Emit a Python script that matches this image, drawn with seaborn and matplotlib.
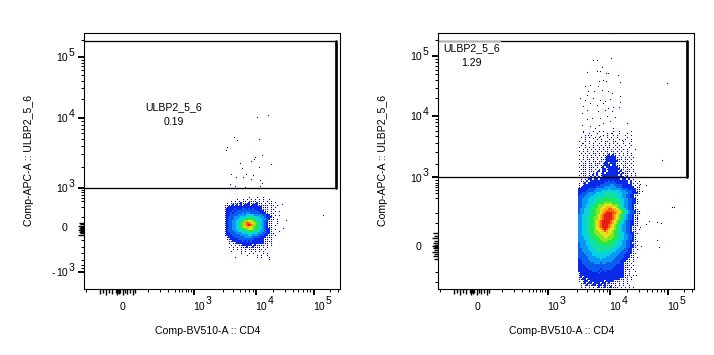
import matplotlib
matplotlib.use("Agg")
import matplotlib.pyplot as plt
import pandas as pd
import seaborn as sns

# both panels are in display channels (0-256), which is what FlowJo plots on
level_colors = {1: "#0a0a8c", 2: "#0a28e6", 3: "#0a5cf0", 4: "#0a98f5", 5: "#08d0e4", 6: "#10e0a4",
                7: "#20e650", 8: "#88e620", 9: "#e0e620", 10: "#ffb010", 11: "#f86010", 12: "#e81e14"}

# density per 2-channel cell, "." = no events, 1 sparse ... c densest
left_x0 = 140.5
left_y0 = 91.5
left_rows = [
    "............1...1..1........",
    "......1..1.1.1.1.1.1..1.....",
    "...1.1.1.11.1111.1.1.1.1....",
    ".1.1111121112111211.1.11....",
    "1111212121222122211111.11.1.",
    "1122222222222222222111.1.1..",
    "1222232223323232222111.11...",
    "1222323333333333322211.1.1.1",
    "1223233334344333332221.11...",
    "122333344445555444433221.1.1",
    "1233344455566665554432221...",
    "1233344556677776655443211.1.",
    "123344556788998765543211..1",
    "1233445678abba9876543211..1",
    "1233445678abcba876543211.1.",
    "12334456789aa98776543211...",
    "123344556778998776543221.1.",
    "123334455667777665443221...1",
    "1223334445556655544332211...",
    "122233334444554443332211.1..",
    ".12223333344443333222111....",
    ".112222333333332222211.1..",
    "..1122222323232222221111....",
    "..1.112222222222222211.1....",
    "...1.1.1122222121111.1.1....",
    "..1.1.1.1112112111.1.1......",
    "....1.1.1.1.1111.11.1.......",
    "...1....1.1..1.1.1.1........",
    "........1...1.1....1.1......",
    "...........1....1.1..1......",
    ".....1..........1.1...1.....",
    "......................1.....",
]

right_x0 = 138.5
right_y0 = 157.5
right_rows = [
    "...1....1..1.1....1..1.....1....",
    "......1...1....1.1...1...1......",
    "....1..1.....1.1..1.1...1..1....",
    "..1...1..1.1...1.1..1....1......",
    "....1.....1.1...1.1..1..1..1....",
    ".1..1.1..1..1.1...11...1...1....",
    "...1..1.1..1..1.1.1.1..1..1.....",
    "..1.1...1.1.1.1.1..1.1..1..1....",
    ".1..1.1.1..1.1.11.1.1.1...1.....",
    "...1.1.1.1.1.1.1.1.1.1.1.1...1..",
    ".1.1.1..1.1.1.11.11.1.1..1......",
    "..1.1.1.11.1.1.11.11.1.1.1.1....",
    ".1.1.1.1.1.1.1112121.1.1.1.1....",
    "...1.1.11.1.1.1222221.1.1.1.1...",
    ".1.1.11.1.1.11122222111.11.1....",
    "..1.1.1.11.11.12222221.11.1.1...",
    ".1.11.11.111.12212221.1.11.1....",
    "..111.11.11.11222.2211.11.1.1...",
    ".1.11.111.1.12.2222221.111.1....",
    "..111.11.1.1.22122222211.11.1...",
    ".1.11.111.12.22.2222212.111.1...",
    "..111.1.1.2.12.22222221211.1.1..",
    ".1.11.1.2.2.122222222.2.11.1.1..",
    "..1.11.2.2.2.22222222222.21.1...",
    "..1.1.22.22.2222222222.22.2.1...",
    "..11.2.2222222223232222222.2.1.1",
    ".1.12.22222222333333222222.21.1.",
    ".1.1222222223333344333322222.1.1",
    ".1122222223333444444333222222.11",
    ".2222233334444445444444333222211",
    ".2222333344445555555554443332211",
    ".2233344445555666665555444332221",
    ".233344445555666666665544332211.",
    ".33344455566666666666554433221.",
    ".334445556666777777666554433221.",
    ".334445556667777777766554433221.",
    ".334445556677788887776654433221.",
    ".33445566778889999888765443321..",
    ".33445566778899aaa998765443321..",
    ".3445566778899aabbaa98765433211.",
    ".344556677889aabbbbaa98765433211",
    ".344556677889abcccbba98765433211",
    ".44556667789abccccba98765433211.",
    ".44556677889abccccba98765433211.",
    ".44556677889abccccba98765433211.",
    ".4455667789abccccba987654332211.",
    ".4455667789abccccba987654332211.",
    ".4455667789abcccba9876544332211.",
    ".4455667789abcccba987654433211..",
    ".44556677899abcba9987654433211.1",
    ".445566778899aba99877654433211..",
    ".44556677888999a998776554332211.",
    ".44555667788899998877655443321..",
    ".44455667778889988877655443321..",
    ".44455666777888888776655443321..",
    ".444455666777888777665544332211.",
    ".34445566667777777766554433211..",
    ".344455566667777776655544332211.",
    ".34444556666666666655544433221..",
    ".3344455566666666655544433221.1.",
    ".3344445556666665555444333221...",
    ".33344445555655555444433322211..",
    ".3333444555555555444433322211...",
    ".3333344445555544444333322211.1.",
    ".23333444444544444433332221.1...",
    ".22333344444444444333322211.1...",
    ".2233333344434433333332211.1....",
    ".22233333333333333332222111.1...",
    ".2222333333333333332222211.1....",
    ".22222333333233333222222111.1...",
    ".222222233323232222222221.1..1..",
    ".122222222232222222222221.1.....",
    ".12222222222222222222222111.1...",
    ".1212222222222222222222211.1....",
    ".11221222222222222222211.1.1....",
    ".1.1221222222212222111.1.1......",
    "..112122122212212111.1.1.1......",
    "..1.12112212212111.1.1.1..1.....",
    "..1.1.1.1.12112112111.1.1.1.1...",
]

# lone events, in channels
left_sparse_x = [184.3, 173.3, 150, 153.3, 175, 143.3, 142.3, 171.7, 178.3, 167.3, 170.7, 156.7,
                 158.3, 175, 187.7, 147.7, 152.7, 162.7, 169.3, 159.3, 167.3, 176.7, 178.3, 146,
                 151.7, 161.7, 176.7, 239, 202.7, 199.3, 198.3, 191.7]
left_sparse_y = [173.2, 171.2, 151.8, 148.5, 149.5, 141.8, 138.5, 131.8, 133.5, 127.5, 129.2, 125.2,
                 120.2, 121.8, 124.2, 114.5, 111.8, 114.2, 113.5, 111.8, 109.2, 108.5, 105.2, 104.5,
                 102.5, 101.8, 102.8, 73.5, 68.5, 60.2, 84.5, 86.8]
right_sparse_x = [174.2, 188.5, 173.5, 155.8, 159, 164.8, 159, 162.5, 168.5, 170.8, 149.8, 180.8,
                  165.8, 161.8, 182.5, 229.2, 168.5, 152.5, 147.5, 160.8, 156.5, 150.8, 149.2, 164.2,
                  170.8, 174.2, 182.5, 142.5, 147.5, 155.8, 162.5, 167.5, 172.5, 182.5, 145.8, 152.5,
                  159, 165.8, 170.8, 175.8, 181.8, 149.2, 144.2, 160.8, 167.5, 174.2, 154.2, 149.2,
                  162.5, 169.2, 177.5, 161.8, 165.8, 172.5, 144.2, 152.5, 189.2, 157.5, 175.8, 145.8,
                  150.8, 165.8, 174.2, 147.5, 155.8, 162.5, 184.2, 169.2, 144.2,
                  224.7, 234.7, 236.3, 211.3, 208, 219.7, 223, 219, 221.3, 203, 202.3, 208.7,
                  199.7, 204.7, 201, 199.7, 202.3, 198]
right_sparse_y = [255.2, 255.5, 230.5, 228.2, 229, 221.2, 217.8, 217.8, 216, 215.5, 216.5, 213.8,
                  208.8, 207.8, 206.5, 205.5, 207.8, 203.8, 202.2, 202.2, 197.2, 197.2, 193.8, 198.8,
                  197.2, 195.5, 192.2, 190.5, 188.8, 190.5, 188.8, 187.2, 189.8, 186.5, 182.2, 185.5,
                  183.8, 185.5, 180.5, 181.2, 181.2, 178.8, 175.5, 177.2, 178.8, 177.2, 170.5, 169.8,
                  170.5, 172.2, 171.2, 163.8, 165.5, 167.2, 163.8, 162.2, 165.5, 160.5, 160.5, 156.5,
                  153.8, 157.2, 155.5, 151.2, 150.5, 152.2, 148.8, 147.2, 145.5,
                  129, 81.8, 81.2, 67.8, 64.5, 66.8, 65.8, 49, 41.8, 42.5, 104.5, 103.5,
                  97.8, 97.8, 76, 71, 61.8, 13.5]

# axis ticks, in channels
x_major = [110.5, 172.5, 230.5]
x_minor = [2.5, 64.5, 76.5, 84.5, 91.5, 95.5, 98.5, 102.5, 104.5, 107.5, 139.5, 149.5, 156.5, 161.5,
           165.5, 169.5, 189.5, 201.5, 209.5, 214.5, 219.5, 223.5, 226.5, 246.5, 254.5]
x_dense = [16.5, 19.5, 22.5, 25.5, 28.5, 32.5, 33.5, 34.5, 35.5, 36.5, 39.5, 41.5, 43.5, 46.5, 49.5, 51.5]
left_y_major = [231.8, 170.8, 100.8, 16.8]
left_y_minor = [248.5, 229, 226, 222.5, 218.5, 214, 208, 200.5, 190, 167.5, 164, 160, 155.5, 149.7,
                142.9, 134.2, 121.9, 98.5, 96.5, 93.5, 90.5, 87.5, 81.8, 71.8, 48.5, 41.5, 35.5,
                28.5, 23.5, 20.5]
left_y_dense = [65.5, 64.5, 62.5, 61.5, 60.5, 59.5, 58.5, 57.5, 56.5, 55.5, 53.5]
right_y_major = [232.5, 172.8, 111.5]
right_y_minor = [249, 229.5, 226.5, 223, 219, 214.5, 208.5, 201, 190.5, 170, 166.5, 162.5, 158,
                 152.5, 146, 137, 125, 108.5, 106, 104, 102, 99, 95.5, 90.5, 75.5, 65.5, 16.5, 6.5]
right_y_dense = [55.5, 52.5, 50.5, 47.5, 45.5, 43.5, 42.5, 41.5, 40.5, 38.5, 36.5, 34.5, 32.5, 29.5]

x_tick_text = ["3", "4", "5"]
left_y_text = ["5", "4", "3", "3"]
right_y_text = ["5", "4", "3"]
gate_name = "ULBP2_5_6"
left_freq = "0.19"
right_freq = "1.29"
x_title = "Comp-BV510-A :: CD4"
y_title = "Comp-APC-A :: ULBP2_5_6"

sns.set_style("ticks")
plt.rcParams["font.family"] = ["Liberation Sans", "DejaVu Sans"]
plt.rcParams["text.color"] = "black"


def cells_frame(rows, x0, y0):
    recs = []
    for i, row in enumerate(rows):
        for j, ch in enumerate(row):
            if ch != ".":
                recs.append({"x": x0 + 2 * j + 1, "y": y0 - 2 * i, "level": int(ch, 16)})
    return pd.DataFrame(recs)


def draw_panel(ax, rows, x0, y0, sp_x, sp_y, y_major, y_text, y_minor, y_dense, y_zero, gate_bottom, gate_right):
    cells = cells_frame(rows, x0, y0)
    solid = cells[cells["level"] > 1]
    thin = cells[cells["level"] == 1]
    # snap off or the single events come out two pixels wide
    sns.scatterplot(data=thin, x="x", y="y", color=level_colors[1], marker="s", s=0.62,
                    linewidth=0, legend=False, snap=False, ax=ax)
    sns.scatterplot(data=solid, x="x", y="y", hue="level", palette=level_colors, marker="s", s=2.08,
                    linewidth=0, legend=False, ax=ax)
    sns.scatterplot(x=sp_x, y=sp_y, color=level_colors[1], marker="s", s=0.62, linewidth=0,
                    legend=False, snap=False, ax=ax)

    # gate
    ax.plot([0, gate_right, gate_right, 0], [gate_bottom, gate_bottom, 247.8, 247.8], color="black", lw=0.95)
    ax.plot([gate_right, gate_right], [gate_bottom, 247.8], color="black", lw=1.9)

    ax.set_xlim(0, 256)
    ax.set_ylim(0, 256)
    ax.set_xlabel("")
    ax.set_ylabel("")
    ax.set_xticks(x_major + x_dense)
    ax.set_xticks(x_minor, minor=True)
    ax.set_yticks(y_major + y_dense)
    ax.set_yticks(y_minor, minor=True)
    ax.set_xticklabels([])
    ax.set_yticklabels([])
    ax.tick_params(which="major", length=4.2, width=1.4, color="black")
    ax.tick_params(which="minor", length=2.2, width=0.72, color="black")
    # teeth near zero are uneven
    jag = [3.6, 2.6, 4.0, 3.0]
    for ticks, n_big in ((ax.xaxis.get_major_ticks(), len(x_major)), (ax.yaxis.get_major_ticks(), len(y_major))):
        for i, t in enumerate(ticks[n_big:]):
            t.tick1line.set_markeredgewidth(1.0)
            t.tick1line.set_markersize(jag[i % 4])
    for s in ax.spines.values():
        s.set_visible(True)
        s.set_linewidth(0.8)
        s.set_color("black")

    fs = 7.6
    for pos, txt in zip(x_major, x_tick_text):
        ax.text(pos - 0.3, -18.2, "10", fontsize=fs, ha="left", va="center", clip_on=False)
        ax.text(pos + 11.8, -12.2, txt, fontsize=fs, ha="left", va="center", clip_on=False)
    ax.text(39.5, -18.2, "0", fontsize=fs, ha="center", va="center", clip_on=False)
    for pos, txt in zip(y_major, y_text):
        ax.text(-27.2, pos - 1.5, "10", fontsize=fs, ha="left", va="center", clip_on=False)
        ax.text(-15.2, pos + 4, txt, fontsize=fs, ha="left", va="center", clip_on=False)
    ax.text(-19.5, y_zero, "0", fontsize=fs, ha="center", va="center", clip_on=False)
    ax.text(124.5, -42.5, x_title, fontsize=fs, ha="center", va="center", clip_on=False)
    ax.text(-55, 128.5, y_title, fontsize=fs, rotation=90, ha="center", va="center", clip_on=False)


fig = plt.figure(figsize=(7.14, 3.55), dpi=100)
ax1 = fig.add_axes([83.5 / 714, 66.5 / 355, 256 / 714, 256 / 355])
ax2 = fig.add_axes([437.5 / 714, 66.5 / 355, 256 / 714, 256 / 355])

draw_panel(ax1, left_rows, left_x0, left_y0, left_sparse_x, left_sparse_y,
           left_y_major, left_y_text, left_y_minor, left_y_dense, 60.5, 100.2, 252.5)
draw_panel(ax2, right_rows, right_x0, right_y0, right_sparse_x, right_sparse_y,
           right_y_major, right_y_text, right_y_minor, right_y_dense, 41.8, 111.2, 249.5)

# the lowest left label is negative
ax1.text(-31.5, 15.3, "-", fontsize=7.6, ha="left", va="center", clip_on=False)

ax1.text(90.5, 181.8, gate_name, fontsize=7.6, ha="center", va="center")
ax1.text(90.5, 166.2, left_freq, fontsize=7.6, ha="center", va="center")
# label box sits over the gate line on this one
ax2.plot([0, 62], [247.8, 247.8], color="#b4b4b4", lw=1.0)
ax2.text(34.3, 240.2, gate_name, fontsize=7.6, ha="center", va="center")
ax2.text(33.5, 225.2, right_freq, fontsize=7.6, ha="center", va="center")

fig.savefig("out.png", dpi=100)
plt.close(fig)
